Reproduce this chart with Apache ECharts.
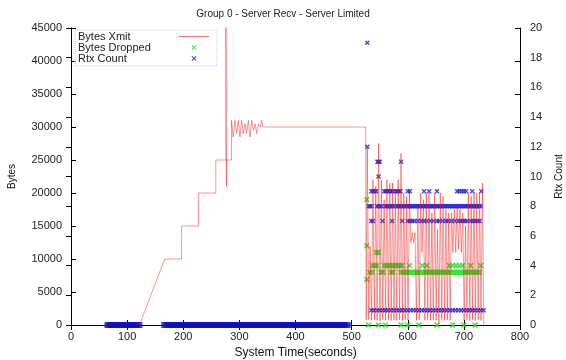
<!DOCTYPE html>
<html><head><meta charset="utf-8">
<script src="https://cdn.jsdelivr.net/npm/echarts@6/dist/echarts.min.js"></script>
<style>html,body{margin:0;padding:0;background:#fff}#c{width:566px;height:360px}</style>
</head><body><div id="c"></div>
<script>
const titleText = 'Group 0 - Server Recv - Server Limited';
const xName = 'System Time(seconds)';
const yLeftName = 'Bytes';
const yRightName = 'Rtx Count';
const seriesNames = ['Bytes Xmit', 'Bytes Dropped', 'Rtx Count'];

// Bytes Xmit (left axis)
const xmitTime = [
 122,167,197,197,227,227,258,258,276,276,
 277,277,286,286,289,292,295,298,301,304,
 307,310,313,316,319,322,325,328,331,334,
 337,340,342,525,
 526,
 528,530.5,533,535.5,538,540.5,543,545.5,548,550.5,
 553,555.5,558,560.5,563,565.5,568,570.5,573,575.5,
 578,580.5,583,585.5,588,590.5,593,595.5,598,600.5,
 603,605.5,608,610.5,613,615.5,618,620.5,623,625.5,
 628,630.5,633,635.5,638,640.5,643,645.5,648,650.5,
 653,655.5,658,660.5,663,665.5,668,670.5,673,675.5,
 678,680.5,683,685.5,688,690.5,693,695.5,698,700.5,
 703,705.5,708,710.5,713,715.5,718,720.5,723,725.5,
 728,730.5,733,735.5];
const xmitBytes = [
 0,10000,10000,15000,15000,20000,20000,25000,25000,46000,
 21000,25000,25000,31000,28500,31000,29000,31000,28500,31000,
 29000,30500,29000,31000,28500,31000,29500,30500,29000,30500,
 30000,31000,30000,30000,
 800,
 27000,800,12000,700,22000,800,21000,700,27500,600,
 22000,800,19000,700,22000,800,21500,700,21500,800,
 20000,700,22000,800,26000,700,20000,800,19500,700,
 20000,12500,14000,12500,14000,700,18000,800,20000,11000,
 19000,700,20000,800,20000,700,17000,800,20000,700,
 14500,200,20000,800,19500,700,17500,800,17000,700,
 17000,11000,17500,11000,18000,11500,17500,11000,17000,700,
 15000,800,20000,700,19500,800,20000,700,20000,800,
 20000,700,21500,0];

// Bytes Dropped (left axis)
const dropTime = [527,527,527,
 532,537,552,556,570,574,588,
 592,596,600,604,608,612,616,620,624,628,632,636,640,644,648,652,656,660,664,668,672,676,680,684,688,692,696,700,704,708,712,716,720,724,728,
 537,541,545,558,562,566,570,574,578,582,586,590,603,626,634,674,680,686,692,698,712,730,
 544,548,
 530,548,560,588,600,620,652,680,700,720];
const dropBytes = [19000,12000,6900,
 8000,8000,8000,8000,8000,8000,8000,
 8000,8000,8000,8000,8000,8000,8000,8000,8000,8000,8000,8000,8000,8000,8000,8000,8000,8000,8000,8000,8000,8000,8000,8000,8000,8000,8000,8000,8000,8000,8000,8000,8000,8000,8000,
 9000,9000,9000,9000,9000,9000,9000,9000,9000,9000,9000,9000,9000,9000,9000,9000,9000,9000,9000,9000,9000,9000,
 11000,11000,
 0,0,0,0,0,0,0,0,0,0];

// Rtx Count (right axis), active period
const rtxTime = [
 535,540,545,550,555,560,565,570,575,580,585,590,595,600,605,610,615,620,625,630,635,640,645,650,655,660,665,670,675,680,685,690,695,700,705,710,715,720,725,730,735,
 535,538,555,572,590,600,604,608,612,618,624,629,634,640,646,652,656,662,668,672,678,684,690,694,698,702,706,712,716,720,724,728,
 530,533,536,545,548,551,554,560,563,566,569,572,575,580,583,586,589,592,595,598,601,
 604,607,610,613,616,619,622,625,628,631,634,637,640,643,646,649,652,655,658,661,664,667,670,673,676,679,682,685,688,691,694,697,700,703,706,709,712,715,718,721,724,727,730,
 535,538,541,544,558,561,564,567,570,573,578,581,584,587,600,604,629,638,652,688,692,696,700,704,715,731,
 528,528,546,548,550,588,548];
const rtxCount = [
 1,1,1,1,1,1,1,1, 1,1,1,1,1,1,1,1, 1,1,1,1,1,1,1,1, 1,1,1,1,1,1,1,1, 1,1,1,1,1,1,1,1, 1,
 7,7,7,7,7,7,7,7, 7,7,7,7,7,7,7,7, 7,7,7,7,7,7,7,7, 7,7,7,7,7,7,7,7,
 8,8,8,8,8,8,8,8, 8,8,8,8,8,8,8,8, 8,8,8,8,8,
 8,8,8,8,8,8,8,8, 8,8,8,8,8,8,8,8, 8,8,8,8,8,8,8,8, 8,8,8,8,8,8,8,8, 8,8,8,8,8,8,8,8, 8,8,8,
 9,9,9,9,9,9,9,9, 9,9,9,9,9,9,9,9, 9,9,9,9,9,9,9,9, 9,9,
 19,12,11,11,11,11,10];

// Rtx Count (right axis), idle periods
const rtxIdleTime = [66,71,76,81,86,91,96,101,106,111,116,121,
 167,172,177,182,187,192,197,202,207,212,217,222,227,232,237,242,247,252,257,262,267,272,277,282,287,292,297,302,307,312,317,322,327,332,337,342,347,352,357,362,367,372,377,382,387,392,397,402,407,412,417,422,427,432,437,442,447,452,457,462,467,472,477,482,487,492,497,502,507,512,517,522,527,
 732,737,742,747,750];
const rtxIdleCount = [0,0,0,0,0,0,0,0,0,0,0,0,
 0,0,0,0,0,0,0,0,0,0,0,0,0,0,0,0,0,0,0,0,0,0,0,0,0,0,0,0,0,0,0,0,0,0,0,0,0,0,0,0,0,0,0,0,0,0,0,0,0,0,0,0,0,0,0,0,0,0,0,0,0,
 0,0,0,0,0];

const zip = (a, b) => a.map((v, i) => [v, b[i]]);

const FONT = 'Liberation Sans';
const X_SYM = 'path://M0,2L2,0L5,3L8,0L10,2L7,5L10,8L8,10L5,7L2,10L0,8L3,5Z';
const BOX = 'M0,0L0.01,0L0,0.01Z M30,9L29.99,9L30,8.99Z ';
const X_LEG = 'path://' + BOX + 'M12.5,2.8L13.3,2L15,3.7L16.7,2L17.5,2.8L15.8,4.5L17.5,6.2L16.7,7L15,5.3L13.3,7L12.5,6.2L14.2,4.5Z';
const LINE_LEG = 'path://' + BOX + 'M0,4L30,4L30,4.9L0,4.9Z';

const axisCommon = {
  axisLine: {show: true, lineStyle: {color: '#000', width: 1}},
  axisTick: {show: true, inside: true, length: 5, lineStyle: {color: '#000'}},
  splitLine: {show: false},
  axisLabel: {color: '#222', fontSize: 11, fontFamily: FONT, formatter: v => String(v)}
};

const chart = echarts.init(document.getElementById('c'));
chart.setOption({
  animation: false,
  backgroundColor: '#fff',
  title: {text: titleText, left: 'center', top: 4, textStyle: {fontSize: 10, fontWeight: 'normal', color: '#222', fontFamily: FONT}},
  grid: {left: 71, right: 46, top: 28, bottom: 35, containLabel: false, outerBoundsMode: 'none'},
  legend: {
    orient: 'vertical', left: 75, top: 30, itemGap: 0, itemWidth: 30, itemHeight: 9, align: 'right',
    padding: [1, 8, 2, 3], borderColor: '#c8c8ee', borderWidth: 1, borderType: 'dotted',
    formatter: '{a|{name}}',
    textStyle: {fontSize: 11, color: '#222', fontFamily: FONT, lineHeight: 10,
      rich: {a: {width: 96, align: 'left', fontSize: 11, color: '#222', fontFamily: FONT, lineHeight: 10}}},
    data: [
      {name: seriesNames[0], icon: LINE_LEG, itemStyle: {color: 'rgba(240,20,20,0.6)'}},
      {name: seriesNames[1], icon: X_LEG},
      {name: seriesNames[2], icon: X_LEG}
    ]
  },
  xAxis: [
    Object.assign({}, axisCommon, {type: 'value', min: 0, max: 800, interval: 100, position: 'bottom',
      axisLabel: Object.assign({}, axisCommon.axisLabel, {margin: 6}),
      name: xName, nameLocation: 'middle', nameGap: 20,
      nameTextStyle: {fontSize: 12, color: '#111', fontFamily: FONT}}),
    Object.assign({}, axisCommon, {type: 'value', min: 0, max: 800, interval: 100, position: 'top', axisLabel: {show: false}})
  ],
  yAxis: [
    Object.assign({}, axisCommon, {type: 'value', min: 0, max: 45000, interval: 5000, position: 'left',
      axisLabel: Object.assign({}, axisCommon.axisLabel, {margin: 9}),
      name: yLeftName, nameLocation: 'middle', nameGap: 54, nameRotate: 90,
      nameTextStyle: {fontSize: 10, color: '#111', fontFamily: FONT}}),
    Object.assign({}, axisCommon, {type: 'value', min: 0, max: 20, interval: 2, position: 'right',
      axisLabel: Object.assign({}, axisCommon.axisLabel, {margin: 10}),
      name: yRightName, nameLocation: 'middle', nameGap: 34, nameRotate: 90,
      nameTextStyle: {fontSize: 10, color: '#111', fontFamily: FONT}}),
    Object.assign({}, axisCommon, {type: 'value', min: 0, max: 45000, interval: 5000, position: 'right', axisLabel: {show: false}})
  ],
  series: [
    {name: seriesNames[0], type: 'line', xAxisIndex: 0, yAxisIndex: 0, symbol: 'none', clip: true,
      data: zip(xmitTime, xmitBytes),
      lineStyle: {color: 'rgba(240,20,20,0.45)', width: 1}, itemStyle: {color: 'rgba(240,20,20,0.6)'}},
    {name: seriesNames[1], type: 'scatter', xAxisIndex: 0, yAxisIndex: 0, symbol: X_SYM, symbolSize: 6,
      data: zip(dropTime, dropBytes), itemStyle: {color: '#1ee61e'}},
    {name: seriesNames[2], type: 'scatter', xAxisIndex: 0, yAxisIndex: 1, symbol: X_SYM, symbolSize: 5,
      data: zip(rtxTime, rtxCount), itemStyle: {color: '#1a1ae0'}},
    {name: seriesNames[2], type: 'scatter', xAxisIndex: 0, yAxisIndex: 1, symbol: 'rect', symbolSize: [7, 6],
      data: zip(rtxIdleTime, rtxIdleCount), itemStyle: {color: '#0c0cc0'}}
  ]
});
</script></body></html>
